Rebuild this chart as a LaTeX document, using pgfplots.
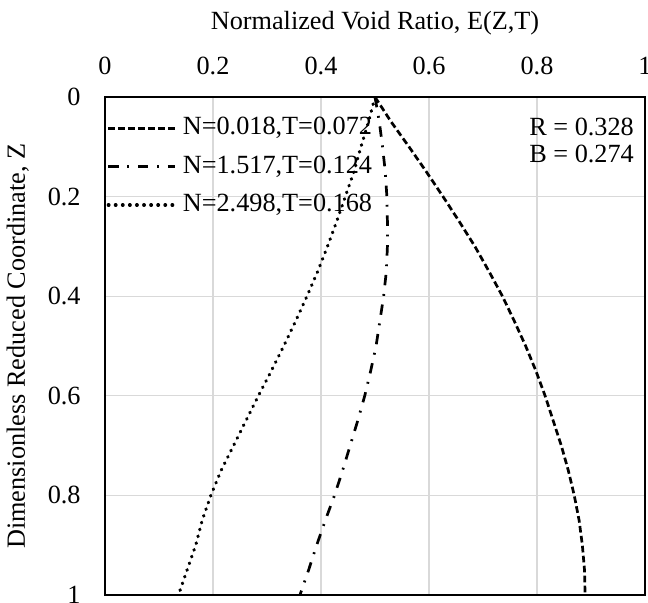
\documentclass[border=0pt]{standalone}
\usepackage{fontspec}
\setmainfont{Liberation Serif}
\usepackage{pgfplots}
\pgfplotsset{compat=1.18}
\definecolor{gridgray}{HTML}{D9D9D9}

\begin{document}
\begin{tikzpicture}[font=\fontsize{12.6}{15}\selectfont]
\begin{axis}[
  scale only axis, width=259.2pt, height=239.04pt,
  xmin=0, xmax=1, ymin=0, ymax=1, y dir=reverse,
  xtick={0,0.2,0.4,0.6,0.8,1}, ytick={0,0.2,0.4,0.6,0.8,1},
  /pgf/number format/assume math mode=true,
  xticklabel pos=upper,
  major tick length=0pt,
  grid=major,
  major grid style={gridgray, line width=0.5pt},
  axis line style={black, line width=0.8pt},
  tick label style={font=\fontsize{12.6}{15}\selectfont},
  label style={font=\fontsize{12.6}{15}\selectfont},
  xticklabel style={anchor=south, inner sep=0pt, yshift=10.5pt},
  yticklabel style={anchor=east, inner sep=0pt, xshift=-11.5pt},
  xlabel={Normalized Void Ratio, E(Z,T)},
  ylabel={Dimensionless Reduced Coordinate, Z},
  xlabel style={at={(axis description cs:0.5,1.1485)}, anchor=center},
  ylabel style={at={(axis description cs:-0.1613,0.5)}, anchor=center},
  legend style={at={(axis description cs:0,1)}, anchor=north west,
    draw=none, fill=none, inner sep=0pt, outer sep=0pt,
    xshift=0.8pt, yshift=-9.4pt,
    font=\fontsize{12.6}{15}\selectfont,
    nodes={inner sep=0pt, text height=8.8pt, text depth=2.5pt},
    row sep=7.1pt, column sep=3.2pt},
  legend cell align=left,
  legend image code/.code={\draw[#1] (0pt,0pt) -- (31.8pt,0pt);},
]
\addplot[black, line width=1.3pt, dash pattern=on 3.2pt off 1.6pt] coordinates {
  (0.500,0.00) (0.530,0.05) (0.563,0.10) (0.595,0.15) (0.626,0.20)
  (0.656,0.25) (0.685,0.30) (0.711,0.35) (0.736,0.40) (0.758,0.45)
  (0.779,0.50) (0.798,0.55) (0.815,0.60) (0.830,0.65) (0.845,0.70)
  (0.858,0.75) (0.869,0.80) (0.878,0.85) (0.884,0.90) (0.888,0.95)
  (0.889,1.00)
};
\addlegendentry{N=0.018,T=0.072}
\addplot[black, line width=1.3pt, dash pattern=on 5pt off 4.2pt on 0.9pt off 4.2pt] coordinates {
  (0.500,0.00) (0.508,0.05) (0.514,0.10) (0.519,0.15) (0.522,0.20)
  (0.523,0.25) (0.523,0.30) (0.521,0.35) (0.516,0.40) (0.509,0.45)
  (0.502,0.50) (0.492,0.55) (0.481,0.60) (0.468,0.65) (0.454,0.70)
  (0.440,0.75) (0.425,0.80) (0.408,0.85) (0.392,0.90) (0.377,0.95)
  (0.361,1.00)
};
\addlegendentry{N=1.517,T=0.124}
\addplot[black, line width=1.55pt, line cap=round, dash pattern=on 0.3pt off 3.1pt] coordinates {
  (0.500,0.00) (0.488,0.05) (0.474,0.10) (0.461,0.15) (0.445,0.20)
  (0.429,0.25) (0.412,0.30) (0.394,0.35) (0.374,0.40) (0.353,0.45)
  (0.331,0.50) (0.308,0.55) (0.284,0.60) (0.261,0.65) (0.238,0.70)
  (0.215,0.75) (0.196,0.80) (0.180,0.85) (0.168,0.90) (0.152,0.95)
  (0.136,1.00)
};
\addlegendentry{N=2.498,T=0.168}
\node[anchor=base west, inner sep=0pt] at (axis cs:0.785,0.0763) {R = 0.328};
\node[anchor=base west, inner sep=0pt] at (axis cs:0.785,0.1325) {B = 0.274};
\coordinate (sw) at (axis description cs:0,0);
\coordinate (ne) at (axis description cs:1,1);
\end{axis}
\pgfresetboundingbox
\useasboundingbox ([shift={(-50.4pt,-3.84pt)}]sw) rectangle ([shift={(1.44pt,46.56pt)}]ne);
\end{tikzpicture}
\end{document}
